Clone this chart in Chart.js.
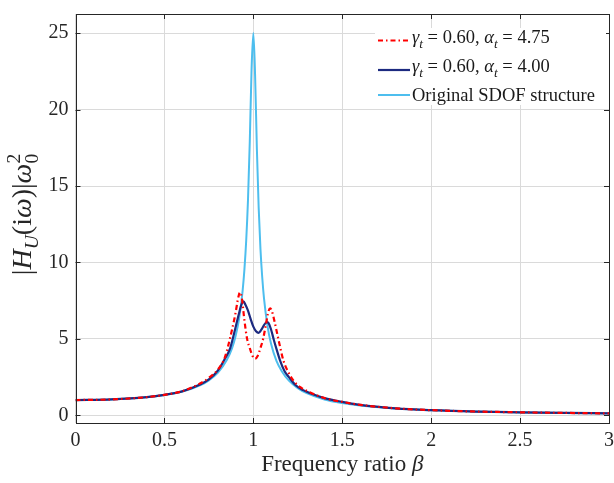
<!DOCTYPE html>
<html>
<head>
<meta charset="utf-8">
<script src="https://cdn.jsdelivr.net/npm/chart.js@4.4.0/dist/chart.umd.min.js"></script>
<style>
  html, body { margin: 0; padding: 0; background: #fff; }
  canvas { display: block; }
</style>
</head>
<body>
<canvas id="grafica" width="614" height="483"></canvas>
<script>
const FUENTE = '"Liberation Serif", "Times New Roman", serif';

const xTicks = [0, 0.5, 1, 1.5, 2, 2.5, 3];
const yTicks = [0, 5, 10, 15, 20, 25];

// gamma_t = 0.60, alpha_t = 4.75 (rojo, punto-raya)
const betaRojo = [0, 0.2, 0.4, 0.5, 0.6, 0.7, 0.75, 0.8, 0.84, 0.88, 0.9, 0.915, 0.925, 0.935, 0.95, 0.965, 0.98, 0.995, 1.01, 1.025, 1.04, 1.055, 1.07, 1.085, 1.095, 1.105, 1.12, 1.135, 1.15, 1.17, 1.2, 1.23, 1.27, 1.32, 1.4, 1.5, 1.6, 1.8, 2.0, 2.25, 2.5, 2.75, 3.0];
const hRojo = [1.0, 1.04, 1.19, 1.34, 1.58, 2.08, 2.45, 2.98, 3.8, 5.6, 6.7, 7.7, 8.05, 7.7, 6.2, 5.0, 4.4, 3.9, 3.7, 3.9, 4.4, 5.0, 5.9, 6.8, 7.0, 6.8, 6.1, 5.3, 4.5, 3.55, 2.75, 2.2, 1.8, 1.5, 1.13, 0.88, 0.69, 0.46, 0.34, 0.25, 0.2, 0.16, 0.13];

// gamma_t = 0.60, alpha_t = 4.00 (azul marino)
const betaAzul = [0, 0.2, 0.4, 0.5, 0.6, 0.7, 0.75, 0.8, 0.84, 0.87, 0.9, 0.92, 0.935, 0.945, 0.955, 0.97, 0.985, 1.0, 1.015, 1.03, 1.045, 1.06, 1.075, 1.085, 1.1, 1.115, 1.13, 1.15, 1.175, 1.2, 1.24, 1.28, 1.32, 1.4, 1.5, 1.6, 1.8, 2.0, 2.25, 2.5, 2.75, 3.0];
const hAzul = [1.0, 1.04, 1.19, 1.34, 1.57, 2.02, 2.35, 2.92, 3.7, 4.4, 5.75, 6.7, 7.3, 7.45, 7.25, 6.85, 6.3, 5.8, 5.5, 5.4, 5.6, 5.9, 6.1, 6.05, 5.6, 4.95, 4.35, 3.6, 2.9, 2.5, 1.95, 1.65, 1.45, 1.13, 0.88, 0.69, 0.46, 0.34, 0.25, 0.2, 0.16, 0.13];

// estructura SDOF original (celeste)
const betaSdof = [0, 0.2, 0.4, 0.5, 0.6, 0.7, 0.75, 0.8, 0.85, 0.88, 0.9, 0.92, 0.94, 0.95, 0.96, 0.97, 0.98, 0.99, 1.0, 1.01, 1.02, 1.03, 1.04, 1.05, 1.06, 1.08, 1.1, 1.13, 1.16, 1.2, 1.25, 1.3, 1.4, 1.5, 1.6, 1.8, 2.0, 2.25, 2.5, 2.75, 3.0];
const hSdof = [1.0, 1.04, 1.19, 1.33, 1.56, 1.96, 2.29, 2.78, 3.6, 4.38, 5.17, 6.33, 8.18, 9.56, 11.45, 14.1, 17.9, 22.6, 25.0, 22.2, 17.4, 13.6, 10.9, 9.03, 7.65, 5.82, 4.66, 3.56, 2.89, 2.27, 1.78, 1.45, 1.04, 0.8, 0.64, 0.446, 0.333, 0.246, 0.19, 0.152, 0.125];

const gammaT = ["0.60", "0.60"];
const alfaT = ["4.75", "4.00"];
const nombreOriginal = "Original SDOF structure";
const tituloX = "Frequency ratio ";

function puntos(xs, ys) {
  return xs.map((x, i) => ({ x: x, y: ys[i] }));
}

// dibuja trozos de texto con cursiva, subindices y superindices
function dibujarTrozos(ctx, x, y, trozos, tam) {
  let cx = x;
  trozos.forEach(tr => {
    const t = tr.esc ? tam * tr.esc : tam;
    ctx.font = (tr.it ? "italic " : "") + t + "px " + FUENTE;
    ctx.fillText(tr.t, cx, y + (tr.dy || 0));
    if (!tr.sinAvance) cx += ctx.measureText(tr.t).width;
  });
  return cx - x;
}

function anchoTrozos(ctx, trozos, tam) {
  let w = 0;
  trozos.forEach(tr => {
    const t = tr.esc ? tam * tr.esc : tam;
    ctx.font = (tr.it ? "italic " : "") + t + "px " + FUENTE;
    if (!tr.sinAvance) w += ctx.measureText(tr.t).width;
  });
  return w;
}

const marco = {
  id: "marco",
  afterDraw(chart) {
    const ctx = chart.ctx;
    const a = chart.chartArea;
    const sx = chart.scales.x;
    const sy = chart.scales.y;

    ctx.save();
    ctx.strokeStyle = "#262626";
    ctx.lineWidth = 1;
    ctx.beginPath();
    xTicks.forEach(v => {
      const px = Math.round(sx.getPixelForValue(v)) + 0.5;
      ctx.moveTo(px, a.bottom); ctx.lineTo(px, a.bottom - 5);
      ctx.moveTo(px, a.top); ctx.lineTo(px, a.top + 5);
    });
    yTicks.forEach(v => {
      const py = Math.round(sy.getPixelForValue(v)) + 0.5;
      ctx.moveTo(a.left, py); ctx.lineTo(a.left + 5, py);
      ctx.moveTo(a.right, py); ctx.lineTo(a.right - 5, py);
    });
    ctx.stroke();
    ctx.strokeRect(Math.round(a.left) + 0.5, Math.round(a.top) + 0.5,
      Math.round(a.right - a.left) - 1, Math.round(a.bottom - a.top));

    // leyenda
    ctx.fillStyle = "#fff";
    ctx.fillRect(375, 28, 231, 77);
    const filas = [40.5, 70, 95];
    const bases = [42.5, 72, 101];
    const tamLey = 18.5;
    chart.data.datasets.forEach((ds, i) => {
      ctx.strokeStyle = ds.borderColor;
      ctx.lineWidth = ds.borderWidth;
      ctx.setLineDash(ds.borderDash || []);
      ctx.beginPath();
      ctx.moveTo(378, filas[i]);
      ctx.lineTo(410, filas[i]);
      ctx.stroke();
      ctx.setLineDash([]);
      ctx.fillStyle = "#1a1a1a";
      ctx.textBaseline = "alphabetic";
      ctx.textAlign = "left";
      if (i < 2) {
        dibujarTrozos(ctx, 412, bases[i], [
          { t: "γ", it: true },
          { t: "t", it: true, esc: 0.72, dy: 5 },
          { t: " = " + gammaT[i] + ", " },
          { t: "α", it: true },
          { t: "t", it: true, esc: 0.72, dy: 5 },
          { t: " = " + alfaT[i] }
        ], tamLey);
      } else {
        dibujarTrozos(ctx, 412, bases[i], [{ t: nombreOriginal }], tamLey);
      }
    });

    // titulo eje x
    ctx.fillStyle = "#262626";
    const trozosX = [{ t: tituloX }, { t: "β", it: true }];
    const tamX = 23;
    const wx = anchoTrozos(ctx, trozosX, tamX);
    dibujarTrozos(ctx, (a.left + a.right) / 2 - wx / 2, 471, trozosX, tamX);

    // titulo eje y
    const tamY = 28;
    const trozosY = [
      { t: "|" },
      { t: "H", it: true },
      { t: "U", it: true, esc: 0.7, dy: 7 },
      { t: "(i" },
      { t: "ω", it: true },
      { t: ")|" },
      { t: "ω", it: true },
      { t: "2", esc: 0.7, dy: -11, sinAvance: true },
      { t: "0", esc: 0.7, dy: 7 }
    ];
    const wy = anchoTrozos(ctx, trozosY, tamY);
    ctx.translate(31, (a.top + a.bottom) / 2 - 4);
    ctx.rotate(-Math.PI / 2);
    dibujarTrozos(ctx, -wy / 2, 0, trozosY, tamY);
    ctx.restore();
  }
};

const ctx = document.getElementById("grafica");

new Chart(ctx, {
  type: "line",
  data: {
    datasets: [
      {
        label: "rojo",
        data: puntos(betaRojo, hRojo),
        borderColor: "#ff0000",
        borderWidth: 2.2,
        borderDash: [5, 3, 1.5, 3],
        pointRadius: 0,
        cubicInterpolationMode: "monotone",
        order: 0
      },
      {
        label: "azul",
        data: puntos(betaAzul, hAzul),
        borderColor: "#1c2a80",
        borderWidth: 2.2,
        pointRadius: 0,
        cubicInterpolationMode: "monotone",
        order: 1
      },
      {
        label: "sdof",
        data: puntos(betaSdof, hSdof),
        borderColor: "#4dbeee",
        borderWidth: 2,
        pointRadius: 0,
        cubicInterpolationMode: "monotone",
        order: 2
      }
    ]
  },
  options: {
    responsive: false,
    animation: false,
    devicePixelRatio: 1,
    layout: { padding: { left: 0, right: 5, top: 14, bottom: 0 } },
    plugins: {
      legend: { display: false },
      tooltip: { enabled: false }
    },
    scales: {
      x: {
        type: "linear",
        min: 0,
        max: 3,
        afterBuildTicks: s => { s.ticks = xTicks.map(v => ({ value: v })); },
        afterFit: s => { s.height = 60; s.paddingLeft = 0; s.paddingRight = 0; },
        grid: { color: "#dadada", drawTicks: false, lineWidth: 1 },
        border: { display: false },
        ticks: {
          font: { family: FUENTE, size: 20 },
          color: "#262626",
          padding: 6,
          maxRotation: 0,
          callback: v => String(v)
        }
      },
      y: {
        type: "linear",
        min: -0.5,
        max: 26.25,
        afterBuildTicks: s => { s.ticks = yTicks.map(v => ({ value: v })); },
        afterFit: s => { s.width = 75.5; s.paddingTop = 0; s.paddingBottom = 0; },
        grid: { color: "#dadada", drawTicks: false, lineWidth: 1 },
        border: { display: false },
        ticks: {
          font: { family: FUENTE, size: 20 },
          color: "#262626",
          padding: 7,
          callback: v => String(v)
        }
      }
    }
  },
  plugins: [marco]
});
</script>
</body>
</html>
